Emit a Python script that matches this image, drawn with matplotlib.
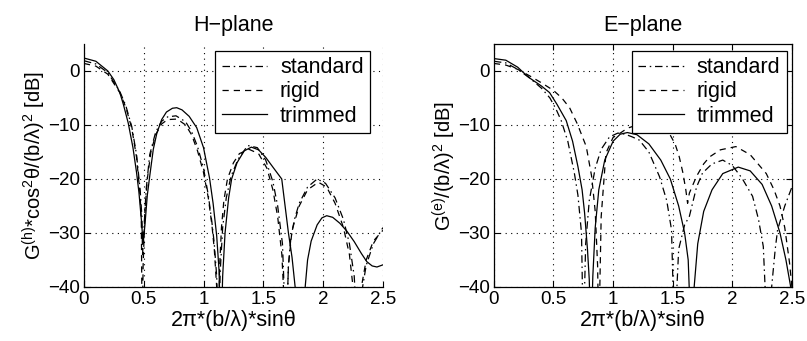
import numpy as np
import matplotlib
matplotlib.use('Agg')
from matplotlib import pyplot as plt

plt.rcParams['font.family'] = ['Liberation Sans', 'DejaVu Sans']
plt.rcParams['mathtext.fontset'] = 'custom'
plt.rcParams['mathtext.rm'] = 'Liberation Sans'
plt.rcParams['mathtext.it'] = 'Liberation Sans:italic'
plt.rcParams['axes.unicode_minus'] = True

# H-plane curves, values (dB)
h_std_x = [0, 0.1, 0.2, 0.3, 0.35, 0.4, 0.44, 0.47, 0.485, 0.49, 0.50, 0.52, 0.55, 0.6, 0.65,
           0.7, 0.77, 0.85, 0.9, 0.95, 1.0, 1.04, 1.07, 1.09, 1.11, 1.125, 1.14, 1.16, 1.19,
           1.23, 1.29, 1.37, 1.45, 1.52, 1.58, 1.62, 1.66, 1.69, 1.71, 1.73, 1.76, 1.8, 1.87,
           1.95, 2.02, 2.1, 2.17, 2.22, 2.26, 2.29, 2.33, 2.36, 2.42, 2.5]
h_std_y = [1.9, 1.3, -0.3, -3.8, -6.4, -10.3, -15.5, -22, -27, -34, -30, -22, -15.5, -11.3, -9.3,
           -8.5, -8.3, -9.4, -11.2, -14, -18, -23, -28, -32, -38, -50, -37, -29, -23.5,
           -19.5, -16.3, -13.8, -14.2, -16.5, -20.5, -25, -32, -50, -36, -31, -27.5, -24.5, -21.5,
           -20.0, -20.8, -23.5, -27.5, -32, -38, -50, -40, -36, -32, -29]

h_rig_x = [0, 0.1, 0.2, 0.3, 0.35, 0.4, 0.44, 0.47, 0.48, 0.487, 0.495, 0.51, 0.53, 0.56, 0.6,
           0.65, 0.7, 0.78, 0.85, 0.9, 0.95, 1.0, 1.04, 1.07, 1.09, 1.11, 1.12, 1.135, 1.15,
           1.17, 1.2, 1.25, 1.3, 1.38, 1.46, 1.53, 1.58, 1.62, 1.655, 1.69, 1.71, 1.74, 1.8,
           1.87, 1.96, 2.03, 2.1, 2.17, 2.22, 2.25, 2.28, 2.32, 2.36, 2.42, 2.5]
h_rig_y = [1.4, 0.9, -0.6, -4.0, -6.7, -10.6, -16, -23, -28, -50, -36, -26, -20, -15, -11.8,
           -9.8, -9.0, -8.9, -10.0, -11.8, -14.8, -18.8, -23.5, -28.5, -33, -40, -50, -36, -29,
           -24, -20, -17, -15.3, -14.5, -15.3, -18, -22, -27, -34, -50, -36, -29.5, -25,
           -22, -20.6, -21.5, -24.5, -29, -34, -40, -50, -40, -35, -31.5, -29.5]

h_trm_x = [0, 0.1, 0.2, 0.25, 0.3, 0.33, 0.37, 0.41, 0.44, 0.46, 0.48, 0.495, 0.51, 0.53,
           0.55, 0.58, 0.61, 0.65, 0.69, 0.74, 0.776, 0.82, 0.88, 0.943, 1.0, 1.05, 1.08,
           1.11, 1.13, 1.145, 1.16, 1.18, 1.21, 1.235, 1.28, 1.34, 1.40, 1.46, 1.52, 1.58,
           1.654, 1.71, 1.74, 1.766, 1.80, 1.85, 1.87, 1.9, 1.95, 1.99, 2.03, 2.08, 2.14, 2.2,
           2.26, 2.32, 2.365, 2.41, 2.45, 2.5]
h_trm_y = [2.4, 1.8, 0.0, -1.6, -4.0, -6.2, -9.6, -14.2, -18.8, -22.5, -27.5, -32, -28.5, -23,
           -19.5, -14.5, -11.5, -9.0, -7.6, -6.9, -6.8, -7.2, -8.4, -10.5, -14.2, -19.8, -24.5,
           -30.5, -37, -50, -38, -30, -23.5, -20, -17, -14.8, -14.1, -14.6, -16, -17.8,
           -20, -30, -34.5, -40, -55, -40, -35, -31.5, -28.5, -27.2, -26.8, -27.1, -28.2, -29.7,
           -31.6, -33.8, -35.3, -36.1, -36.3, -35.9]

# E-plane curves
e_std_x = [0, 0.1, 0.2, 0.3, 0.4, 0.47, 0.52, 0.565, 0.62, 0.675, 0.705, 0.735, 0.75, 0.77,
           0.8, 0.85, 0.9, 0.97, 1.04, 1.1, 1.16, 1.22, 1.3, 1.39, 1.45, 1.49, 1.515, 1.55, 1.6,
           1.64, 1.7, 1.75, 1.83, 1.92, 2.0, 2.08, 2.17, 2.22, 2.26, 2.295, 2.33, 2.36, 2.38,
           2.44, 2.5]
e_std_y = [1.8, 1.5, 0.3, -1.3, -3.2, -5.0, -7.0, -9.2, -13.0, -18.9, -23, -30, -50, -32,
           -24, -18, -14.5, -12.2, -11.5, -11.7, -12.2, -12.8, -15, -19.6, -24, -29.4, -50, -33,
           -28.5, -26.9, -21.5, -18.9, -17.2, -16.5, -17.5, -19.8, -23.2, -27.5, -32.5, -50,
           -40, -33, -29.4, -25, -21.5]

e_rig_x = [0, 0.1, 0.2, 0.3, 0.4, 0.5, 0.57, 0.635, 0.7, 0.775, 0.82, 0.85, 0.87, 0.88,
           0.9, 0.94, 1.0, 1.06, 1.12, 1.2, 1.3, 1.4, 1.47, 1.52, 1.555, 1.585, 1.61, 1.625,
           1.64, 1.7, 1.76, 1.81, 1.9, 2.03, 2.15, 2.285, 2.35, 2.4, 2.44, 2.48, 2.5]
e_rig_y = [1.4, 1.1, 0.3, -0.9, -2.2, -3.6, -5.0, -6.8, -9.8, -14, -19.5, -26, -36, -50,
           -27, -15.2, -12.3, -11.5, -10.6, -10.0, -10.0, -10.5, -11.5, -13.5, -15.9, -18.8, -22, -24.5,
           -22.6, -19.5, -17.2, -15.9, -14.6, -14.0, -15.5, -19, -22, -25, -29, -35.5, -40]

e_trm_x = [0, 0.1, 0.2, 0.243, 0.3, 0.4, 0.467, 0.53, 0.607, 0.66, 0.705, 0.74, 0.761, 0.785,
           0.80, 0.815, 0.83, 0.85, 0.88, 0.93, 1.0, 1.06, 1.12, 1.2, 1.3, 1.4, 1.48, 1.55, 1.6,
           1.63, 1.655, 1.68, 1.71, 1.76, 1.83, 1.92, 2.05, 2.15, 2.25, 2.33, 2.4, 2.45, 2.49,
           2.52]
e_trm_y = [2.3, 2.0, 0.7, -0.2, -1.3, -2.8, -4.0, -6.2, -9.2, -13.0, -17.7, -22, -26.3, -33,
           -38.6, -50, -38, -29, -22, -16.5, -13, -11.7, -11.4, -11.8, -13.5, -16.5, -20, -25, -30,
           -35, -50, -40, -32, -26, -22, -19, -17.8, -18.5, -21, -25, -30, -35, -40, -50]

x_ticks = [0, 0.5, 1, 1.5, 2, 2.5]
x_ticklabels = ['0', '0.5', '1', '1.5', '2', '2.5']
y_ticks = [-40, -30, -20, -10, 0]
labels = ['standard', 'rigid', 'trimmed']

fig = plt.figure(figsize=(8.07, 3.41), dpi=100)
ax1 = fig.add_axes([0.104, 0.1584, 0.3705, 0.7126])
ax2 = fig.add_axes([0.612, 0.1584, 0.3693, 0.7126])

dashdot = (0, (6, 3, 1.2, 3))
dashed = (0, (5, 4))
fs_tick = 13.5
fs = 15.5


def draw(ax, sx, sy, rx, ry, tx, ty, title, ylabel, full_box, legend_x):
    lw = 0.9
    ax.plot(sx, sy, color='k', lw=lw, linestyle=dashdot, label=labels[0])
    ax.plot(rx, ry, color='k', lw=lw, linestyle=dashed, label=labels[1])
    ax.plot(tx, ty, color='k', lw=lw, linestyle='-', label=labels[2])
    ax.set_xlim(0, 2.5)
    ax.set_ylim(-40, 5)
    ax.set_xticks(x_ticks)
    ax.set_xticklabels(x_ticklabels)
    ax.set_yticks(y_ticks)
    ax.grid(True, color='k', linestyle=(0, (1, 4)), linewidth=0.8)
    ax.tick_params(direction='in', labelsize=fs_tick, length=4, width=0.8)
    ax.tick_params(axis='x', pad=3)
    ax.tick_params(axis='y', pad=3)
    for s in ax.spines.values():
        s.set_linewidth(0.9)
    if not full_box:
        ax.spines['top'].set_visible(False)
        ax.spines['right'].set_visible(False)
    else:
        ax.tick_params(top=True, right=True)
    ax.set_title(title, fontsize=fs, pad=9)
    ax.set_xlabel('2π*(b/λ)*sinθ', fontsize=fs, labelpad=1)
    ax.set_ylabel(ylabel, fontsize=14.5, labelpad=0)
    leg = ax.legend(loc='upper right', bbox_to_anchor=(legend_x, 0.972), fontsize=fs,
                    frameon=True, fancybox=False, framealpha=1, edgecolor='k',
                    handlelength=2.1, handletextpad=0.6, borderpad=0.3, labelspacing=0.15,
                    borderaxespad=0)
    leg.get_frame().set_linewidth(0.9)


draw(ax1, h_std_x, h_std_y, h_rig_x, h_rig_y, h_trm_x, h_trm_y, 'H−plane',
     r'G$^{\mathrm{(h)}}$*cos$^{\mathrm{2}}$θ/(b/λ)$^{\mathrm{2}}$ [dB]', False, 0.957)
draw(ax2, e_std_x, e_std_y, e_rig_x, e_rig_y, e_trm_x, e_trm_y, 'E−plane',
     r'G$^{\mathrm{(e)}}$/(b/λ)$^{\mathrm{2}}$ [dB]', True, 0.982)

fig.savefig('out.png', dpi=100)
